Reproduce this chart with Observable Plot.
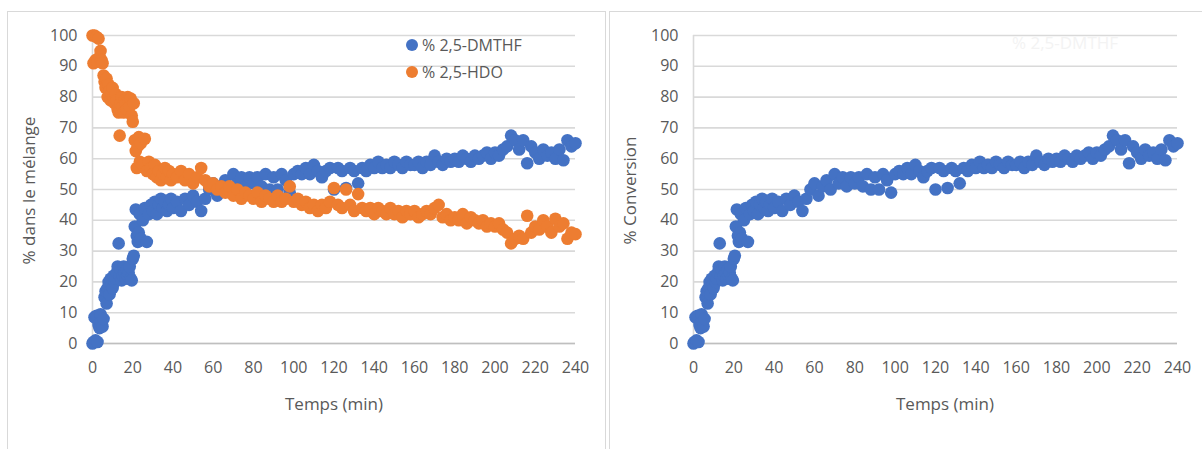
<!DOCTYPE html>
<html><head><meta charset="utf-8">
<script src="https://cdn.jsdelivr.net/npm/d3@7"></script>
<script src="https://cdn.jsdelivr.net/npm/@observablehq/plot@0.6"></script>
<style>
body{margin:0;background:#fff;font-family:"Open Sans",sans-serif;}
#wrap{position:relative;width:1202px;height:449px;overflow:hidden;background:#fff;}
.panel{position:absolute;border:1px solid #d9d9d9;box-sizing:border-box;background:#fff;}
.panel svg{position:absolute;left:0;top:0;}
.xt{position:absolute;font-size:17px;line-height:17px;color:#595959;white-space:nowrap;transform:translateX(-50%);}
.yt{position:absolute;font-size:17px;line-height:17px;color:#595959;white-space:nowrap;width:300px;text-align:center;transform:rotate(-90deg);}
.leg{position:absolute;font-size:16px;line-height:16px;color:#595959;white-space:nowrap;}
.dotk{position:absolute;width:12px;height:12px;border-radius:50%;}
</style>
</head><body>
<div id="wrap"></div>
<script>
// ---- data ----
const minutes = [0,0.5,1,1.5,2,2.5,3,3.5,4,4.5,5,5.5,6,6.5,7,7.5,8,8.5,9,9.5,
  10,10.5,11,11.5,12,12.5,13,13.5,14,14.5,15,15.5,16,16.5,17,17.5,18,18.5,19,19.5,
  20,20.5,21,21.5,22,22.5,23,23.5,24,
  25,26,27,28,29,30,31,32,33,34,35,36,37,38,39,40,
  42,44,46,48,50,52,54,56,58,60,62,64,66,68,70,72,74,76,78,80,
  82,84,86,88,90,92,94,96,98,100,102,104,106,108,110,112,114,116,118,120,
  122,124,126,128,130,132,134,136,138,140,142,144,146,148,150,152,154,156,158,160,
  162,164,166,168,170,172,174,176,178,180,182,184,186,188,190,192,194,196,198,200,
  202,204,206,208,210,212,214,216,218,220,222,224,226,228,230,232,234,236,238,240];

const dmthf = [0,0.5,8.5,1,9,0.5,6,5,9.5,7,
  5.5,8,15,17,13,18,20,16,21,19,
  18,22,20,21,23,25,32.5,22,24,20.5,
  22,25,23,21,24,22,23,25,21,20.5,
  27.5,28.5,38,43.5,35,33,36,42,34,
  40,44,33,42,45,43,46,42,45,47,44,46,43,45,47,44,
  46,43,47,45,48,46,43,47,50,52,
  48,51,53,50,55,52,54,51,54,52,
  54,51,55,50,54,50,55,53,49,55,
  56,55,57,55,58,56,54,56,57,50,
  57,56,50.5,57,56,52,57,56,58,57,
  59,57,58,57,59,58,57,59,58,58,
  59,57,59,58,61,59,58,60,59,60,
  59,61,60,59,61,60,61,62,60,62,
  61,63,64,67.5,66,63,66,58.5,64,62,
  60,63,61,62,60,63,59.5,66,64,65];

const hdo = [100,91,100,92,99.5,91.5,99,93,95,92,
  91,87,85,83,86,80,84,82,79,81,
  83,80,78,81,79,76,75,67.5,78,80,
  77,75,79,78,76,80,79,77,79.5,74,
  72,78,66,62.5,57,64,67,59,65,
  58,66.5,56,59,57,55,58,54,56,53,55,57,54,56,53,55,
  54,56,53,55,52,54,57,53,51,52,
  50,51,49,51,48,50,47,49,48,47,
  49,46,48,47,46,48,46,47,51,46,
  47,45,46,44,45,43,45,44,46,50.5,
  45,44,50,45,43,48.5,44,43,44,42,
  44,43,42,44,42,43,41,43,42,43,
  41,42,43,42,44,45,41,42,40,41,
  40,42,39,41,40,39,40,38,39,38,
  39,37,36,32.5,34,35,34,41.5,36,38,
  37,40,38,36,40.5,38,39,34,36,35.5];

const xTicks = [0,20,40,60,80,100,120,140,160,180,200,220,240];
const yTicks = [0,10,20,30,40,50,60,70,80,90,100];
const seriesNames = ["% 2,5-DMTHF", "% 2,5-HDO"];
const colors = ["#4472C4", "#ED7D31"];
const xTitle = "Temps (min)";
const yTitles = ["% dans le mélange", "% Conversion"];

const blueRows = minutes.map((t, i) => ({t, v: dmthf[i]}));
const orangeRows = minutes.map((t, i) => ({t, v: hdo[i]}));

const wrap = document.getElementById("wrap");

function makePanel(cfg) {
  const box = document.createElement("div");
  box.className = "panel";
  Object.assign(box.style, {left: cfg.left + "px", top: "11px", width: cfg.boxW + "px", height: "460px"});
  wrap.appendChild(box);
  const marks = [
    Plot.gridY(yTicks, {stroke: "#d9d9d9", strokeOpacity: 1, strokeWidth: 1.6}),
    Plot.ruleY([0], {stroke: "#bfbfbf", strokeWidth: 1.6}),
    Plot.ruleX([0], {stroke: "#d9d9d9", strokeWidth: 1.6}),
    Plot.axisY({ticks: yTicks, tickSize: 0, tickPadding: 15, label: null}),
    Plot.axisX({ticks: xTicks, tickSize: 0, tickPadding: 18, label: null})
  ];
  cfg.series.forEach(s => marks.push(Plot.dot(s.rows, {x: "t", y: "v", r: 6.3, fill: s.color, stroke: "none"})));
  const svg = Plot.plot({
    width: cfg.svgW, height: 437,
    marginLeft: cfg.mL, marginRight: cfg.mR, marginTop: 23, marginBottom: 106,
    x: {domain: [0, 240]},
    y: {domain: [0, 100]},
    style: {fontFamily: "'Open Sans', sans-serif", fontSize: "16px", color: "#595959", background: "transparent", overflow: "visible"},
    marks
  });
  box.appendChild(svg);
}

makePanel({left: 7, boxW: 599, svgW: 597, mL: 84, mR: 30,
  series: [{rows: blueRows, color: colors[0]}, {rows: orangeRows, color: colors[1]}]});
makePanel({left: 609, boxW: 620, svgW: 592, mL: 83, mR: 25,
  series: [{rows: blueRows, color: colors[0]}]});

function addText(cls, text, style) {
  const d = document.createElement("div");
  d.className = cls; d.textContent = text;
  Object.assign(d.style, style);
  wrap.appendChild(d);
  return d;
}
// axis titles
addText("xt", xTitle, {left: "334px", top: "395px"});
addText("xt", xTitle, {left: "945px", top: "395px"});
addText("yt", yTitles[0], {left: (28.4 - 150) + "px", top: (190 - 8.5) + "px"});
addText("yt", yTitles[1], {left: (628.5 - 150) + "px", top: (190 - 8.5) + "px"});

// legend (left panel)
seriesNames.forEach((name, i) => {
  const y = [45, 72][i];
  const k = document.createElement("div");
  k.className = "dotk";
  Object.assign(k.style, {left: (412 - 6) + "px", top: (y - 6) + "px", background: colors[i]});
  wrap.appendChild(k);
  addText("leg", name, {left: "422px", top: (y - 8) + "px"});
});
// faint ghost legend in right panel
addText("leg", seriesNames[0], {left: "1012px", top: "35px", color: "#f3f3f3", fontSize: "17px"});
</script>
</body></html>
